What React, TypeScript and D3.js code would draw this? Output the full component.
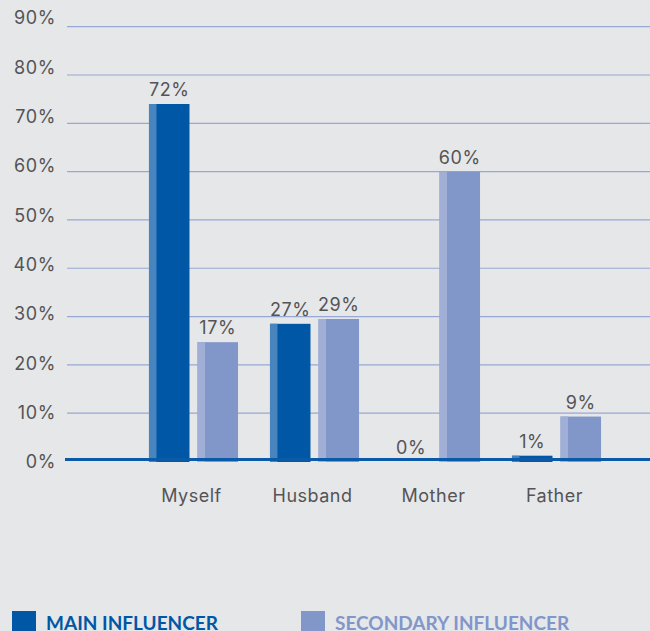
import React, { useEffect, useRef } from "react";
import * as d3 from "d3";

const categories = ["Myself", "Husband", "Mother", "Father"];
const seriesKeys = ["main", "secondary"];
const seriesNames = ["MAIN INFLUENCER", "SECONDARY INFLUENCER"];
// bar heights as drawn in the picture (the printed labels differ a little)
const mainValues = [74, 28.5, 0, 1.2];
const secondaryValues = [24.7, 29.5, 60, 9.3];
const mainLabels = ["72%", "27%", "0%", "1%"];
const secondaryLabels = ["17%", "29%", "60%", "9%"];
const yTicks = [0, 10, 20, 30, 40, 50, 60, 70, 80, 90];

const W = 650;
const H = 631;
const colors = { main: "#0057a6", secondary: "#8196c9" };
const stripColors = { main: "#4884be", secondary: "#a1aed5" };
const textColor = "#545456";
const font = "Inter, 'Open Sans', sans-serif";

export default function App() {
   const ref = useRef<SVGSVGElement>(null);

   useEffect(() => {
      const svg = d3.select(ref.current);
      svg.selectAll("*").remove();

      svg.append("rect").attr("width", W).attr("height", H).attr("fill", "#e6e7e9");

      const y = d3.scaleLinear().domain([0, 90]).range([461.5, 26.7]);
      // tick labels sit on a slightly wider spacing than the grid
      const yLabel = d3.scaleLinear().domain([0, 90]).range([462, 18]);

      const x0 = d3
         .scaleBand()
         .domain(categories)
         .range([133, 617])
         .paddingInner(0.264)
         .paddingOuter(0.132);
      const x1 = d3
         .scaleBand()
         .domain(seriesKeys)
         .range([0, x0.bandwidth()])
         .paddingInner(0.165);

      // grid
      svg.append("g")
         .selectAll("line")
         .data(yTicks.filter((t) => t > 0))
         .join("line")
         .attr("x1", 67)
         .attr("x2", W)
         .attr("y1", (d) => y(d))
         .attr("y2", (d) => y(d))
         .attr("stroke", "#98a8d4")
         .attr("stroke-width", 1.2);

      // y tick labels
      svg.append("g")
         .selectAll("text")
         .data(yTicks)
         .join("text")
         .attr("x", 56)
         .attr("y", (d) => yLabel(d))
         .attr("dy", "0.35em")
         .attr("text-anchor", "end")
         .attr("font-family", font)
         .attr("font-size", 18)
         .attr("letter-spacing", 0.6)
         .attr("fill", textColor)
         .text((d) => d + "%");

      const rows = categories.map((c, i) => ({
         cat: c,
         bars: [
            { key: "main", value: mainValues[i], label: mainLabels[i] },
            { key: "secondary", value: secondaryValues[i], label: secondaryLabels[i] },
         ],
      }));

      const groups = svg.append("g")
         .selectAll("g")
         .data(rows)
         .join("g")
         .attr("transform", (d) => `translate(${x0(d.cat)},0)`);

      const bars = groups
         .selectAll("g")
         .data((d) => d.bars)
         .join("g")
         .attr("transform", (d) => `translate(${x1(d.key)},0)`);

      const bottom = y(0) + 0.5;
      bars.filter((d) => d.value > 0)
         .append("rect")
         .attr("y", (d) => y(d.value))
         .attr("width", x1.bandwidth())
         .attr("height", (d) => bottom - y(d.value))
         .attr("fill", (d) => colors[d.key]);
      bars.filter((d) => d.value > 0)
         .append("rect")
         .attr("y", (d) => y(d.value))
         .attr("width", 7.5)
         .attr("height", (d) => bottom - y(d.value))
         .attr("fill", (d) => stripColors[d.key]);

      bars.append("text")
         .attr("x", x1.bandwidth() / 2)
         .attr("y", (d) => y(d.value) - 8)
         .attr("text-anchor", "middle")
         .attr("font-family", font)
         .attr("font-size", 18)
         .attr("letter-spacing", 0.6)
         .attr("fill", textColor)
         .text((d) => d.label);

      // baseline
      svg.append("line")
         .attr("x1", 65)
         .attr("x2", W)
         .attr("y1", y(0) - 2)
         .attr("y2", y(0) - 2)
         .attr("stroke", "#0a5aa8")
         .attr("stroke-width", 3);

      // category labels
      svg.append("g")
         .selectAll("text")
         .data(categories)
         .join("text")
         .attr("x", (d) => x0(d) + x0.bandwidth() / 2 - 2)
         .attr("y", 502)
         .attr("text-anchor", "middle")
         .attr("font-family", font)
         .attr("font-size", 18)
         .attr("letter-spacing", 0.5)
         .attr("fill", textColor)
         .text((d) => d);

      // legend
      const legendX = [12, 301];
      const legend = svg.append("g")
         .selectAll("g")
         .data(seriesKeys)
         .join("g")
         .attr("transform", (d, i) => `translate(${legendX[i]},611)`);
      legend.append("rect")
         .attr("width", 24)
         .attr("height", 24)
         .attr("fill", (d) => colors[d]);
      legend.append("text")
         .attr("x", 34)
         .attr("y", 19)
         .attr("font-family", "Lato, sans-serif")
         .attr("font-weight", 700)
         .attr("font-size", 19)
         .attr("fill", (d) => colors[d])
         .text((d, i) => seriesNames[i]);
   }, []);

   return (
      <svg
         ref={ref}
         width={W}
         height={H}
         style={{ position: "absolute", left: 0, top: 0, display: "block" }}
      ></svg>
   );
}
